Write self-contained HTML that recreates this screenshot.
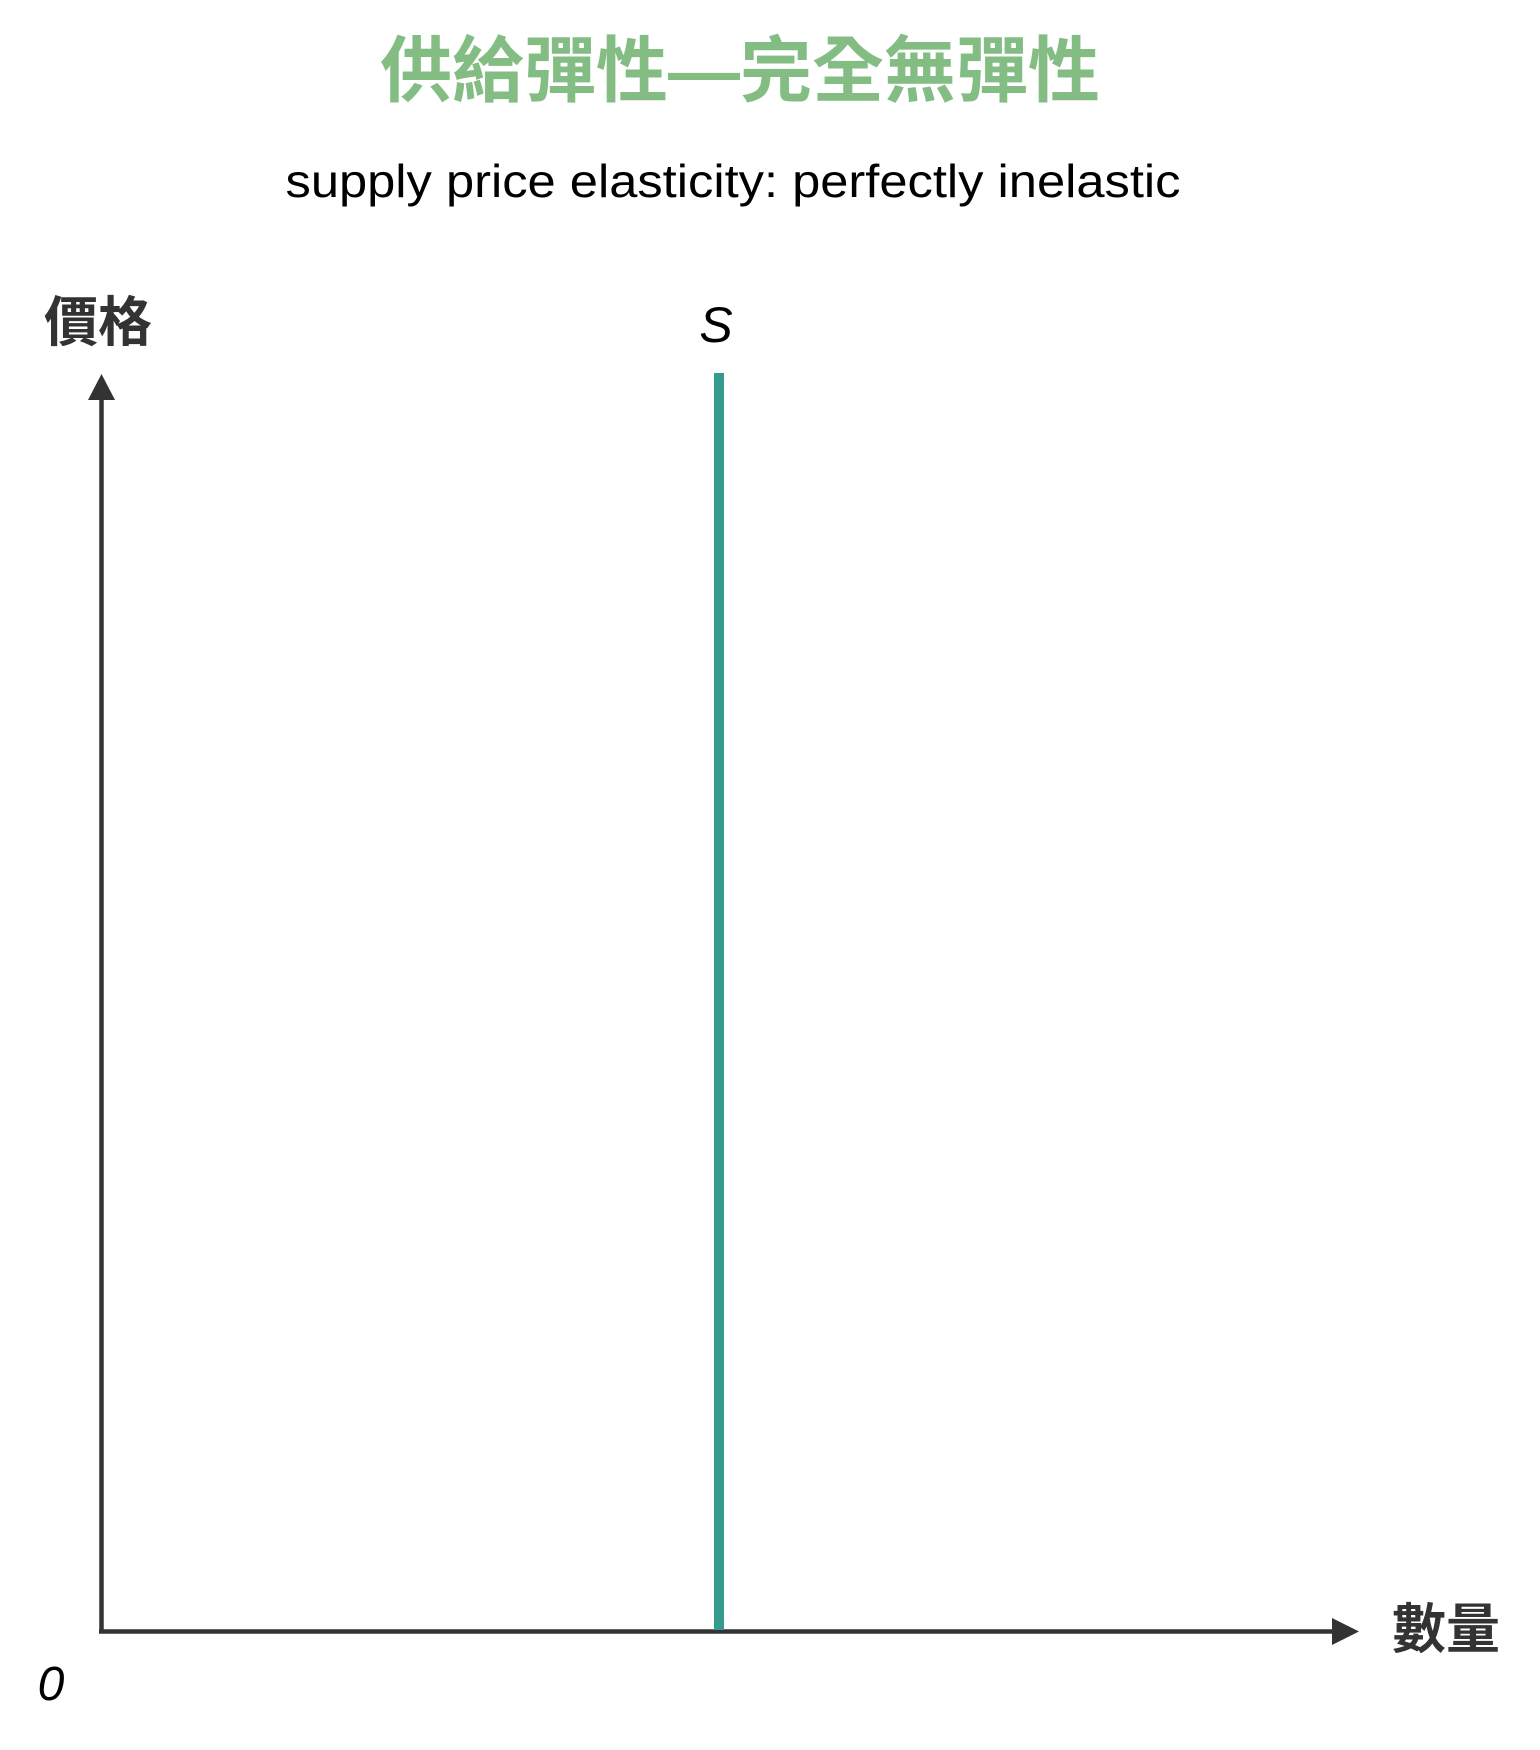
<!DOCTYPE html>
<html><head><meta charset="utf-8"><style>
html,body{margin:0;padding:0;background:#fff;width:1540px;height:1750px;overflow:hidden}
svg{display:block}
</style></head><body>
<svg width="1540" height="1750" viewBox="0 0 1540 1750">
<text x="740" y="96" text-anchor="middle" font-family="'Liberation Sans','Noto Sans CJK TC',sans-serif" font-weight="bold" font-size="72" fill="#84bd84">供給彈性—完全無彈性</text>
<text x="733" y="197" text-anchor="middle" textLength="895" lengthAdjust="spacingAndGlyphs" font-family="'Liberation Sans','Noto Sans CJK TC',sans-serif" font-size="46" fill="#000">supply price elasticity: perfectly inelastic</text>
<text x="98" y="341" text-anchor="middle" font-family="'Liberation Sans','Noto Sans CJK TC',sans-serif" font-weight="bold" font-size="54" fill="#333">價格</text>
<text x="1446" y="1648" text-anchor="middle" font-family="'Liberation Sans','Noto Sans CJK TC',sans-serif" font-weight="bold" font-size="54" fill="#333">數量</text>
<text x="51" y="1700" text-anchor="middle" font-family="'Liberation Sans',sans-serif" font-style="italic" font-size="48" fill="#000">0</text>
<line x1="101.5" y1="1633" x2="101.5" y2="395" stroke="#333" stroke-width="4.5"/>
<polygon points="101.5,374 88,400 115,400" fill="#333"/>
<line x1="99" y1="1631.5" x2="1335" y2="1631.5" stroke="#333" stroke-width="4.5"/>
<polygon points="1359,1631.5 1332,1618 1332,1645" fill="#333"/>
<g id="plot"></g>
</svg>
<script>
const quantities=[5];
const seriesLabels=["S"];
const xMin=0,xMax=10,pxL=101.5,pxR=1336.5;
function xScale(v){return pxL+(v-xMin)/(xMax-xMin)*(pxR-pxL);}
const g=document.getElementById('plot');
const NS='http://www.w3.org/2000/svg';
quantities.forEach((q,i)=>{
  const x=xScale(q);
  const ln=document.createElementNS(NS,'line');
  ln.setAttribute('x1',x);ln.setAttribute('x2',x);
  ln.setAttribute('y1',373);ln.setAttribute('y2',1630);
  ln.setAttribute('stroke','#369b8f');ln.setAttribute('stroke-width',10);
  
  
  g.appendChild(ln);
  const t=document.createElementNS(NS,'text');
  t.setAttribute('x',x-3);t.setAttribute('y',342);
  t.setAttribute('text-anchor','middle');
  t.setAttribute('font-family',"'Liberation Sans',sans-serif");
  t.setAttribute('font-style','italic');t.setAttribute('font-size','50');
  t.textContent=seriesLabels[i];
  
  
  g.appendChild(t);
});
</script>
</body></html>
